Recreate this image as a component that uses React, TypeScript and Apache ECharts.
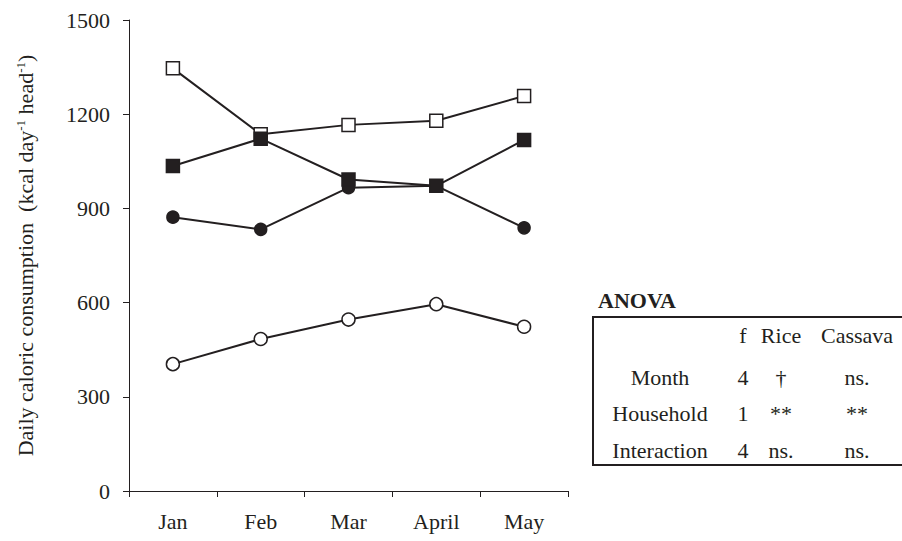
import React, { useEffect, useRef } from "react";
import * as echarts from "echarts";

const months = ["Jan", "Feb", "Mar", "April", "May"];
const openSquares = [1346, 1136, 1166, 1179, 1258];
const filledSquares = [1035, 1122, 992, 972, 1118];
const filledCircles = [872, 833, 966, 972, 838];
const openCircles = [404, 484, 546, 595, 523];

const anovaHeader = ["", "f", "Rice", "Cassava"];
const anovaRows = [
  ["Month", "4", "†", "ns."],
  ["Household", "1", "**", "**"],
  ["Interaction", "4", "ns.", "ns."],
];

const FONT = "'Liberation Serif', 'Times New Roman', serif";
const INK = "#231f20";

export default function App() {
  const ref = useRef<HTMLDivElement>(null);
  useEffect(() => {
    const chart = echarts.init(ref.current!, null, { renderer: "svg" });
    const colX = [660, 743, 781, 857];
    const rowY = [335, 377, 413, 450];
    const tableTexts: any[] = [];
    [anovaHeader, ...anovaRows].forEach((row, ri) => {
      row.forEach((cell, ci) => {
        if (!cell) return;
        tableTexts.push({
          type: "text",
          x: colX[ci],
          y: rowY[ri],
          style: {
            text: cell,
            font: `22px ${FONT}`,
            fill: INK,
            textAlign: "center",
            textVerticalAlign: "middle",
          },
        });
      });
    });
    const lineStyle = { color: INK, width: 2 };
    const mk = (name: string, data: number[], symbol: string, filled: boolean, size: number, z: number) => ({
      name,
      type: "line",
      data,
      symbol,
      symbolSize: size,
      showAllSymbol: true,
      z,
      lineStyle,
      itemStyle: {
        color: filled ? INK : "#ffffff",
        borderColor: INK,
        borderWidth: 1.5,
      },
    });
    chart.setOption({
      animation: false,
      backgroundColor: "#ffffff",
      grid: { left: 129, right: 334, top: 20, bottom: 50 },
      xAxis: {
        type: "category",
        data: months,
        boundaryGap: true,
        axisLine: { lineStyle: { color: INK, width: 1 } },
        axisTick: { show: true, length: 6, lineStyle: { color: INK } },
        axisLabel: { color: INK, fontFamily: FONT, fontSize: 22, margin: 19 },
      },
      yAxis: {
        type: "value",
        min: 0,
        max: 1500,
        interval: 300,
        splitLine: { show: false },
        axisLine: { show: true, lineStyle: { color: INK, width: 1 } },
        axisTick: { show: true, length: 6, lineStyle: { color: INK } },
        axisLabel: {
          color: INK,
          fontFamily: FONT,
          fontSize: 22,
          margin: 19,
          formatter: (v: number) => String(v),
        },
        name: "{n|Daily caloric consumption  (kcal day}{s|-1}{n| head}{s|-1}{n|)}",
        nameLocation: "middle",
        nameGap: 92,
        nameTextStyle: {
          rich: {
            n: { fontFamily: FONT, fontSize: 22, color: INK },
            s: { fontFamily: FONT, fontSize: 13, color: INK, verticalAlign: "top", padding: [0, 0, 10, 0] },
          },
        },
      },
      series: [
        mk("open squares", openSquares, "rect", false, 13, 2),
        mk("filled circles", filledCircles, "circle", true, 12, 3),
        mk("filled squares", filledSquares, "rect", true, 13, 4),
        mk("open circles", openCircles, "circle", false, 13, 5),
      ],
      graphic: [
        {
          type: "text",
          x: 598,
          y: 300,
          style: {
            text: "ANOVA",
            font: `bold 22px ${FONT}`,
            fill: INK,
            textAlign: "left",
            textVerticalAlign: "middle",
          },
        },
        {
          type: "rect",
          shape: { x: 593, y: 317, width: 320, height: 148 },
          style: { fill: "none", stroke: INK, lineWidth: 2 },
        },
        ...tableTexts,
      ],
    });
    return () => chart.dispose();
  }, []);
  return (
    <div
      ref={ref}
      style={{ position: "absolute", left: 0, top: 0, width: 902, height: 541 }}
    />
  );
}
